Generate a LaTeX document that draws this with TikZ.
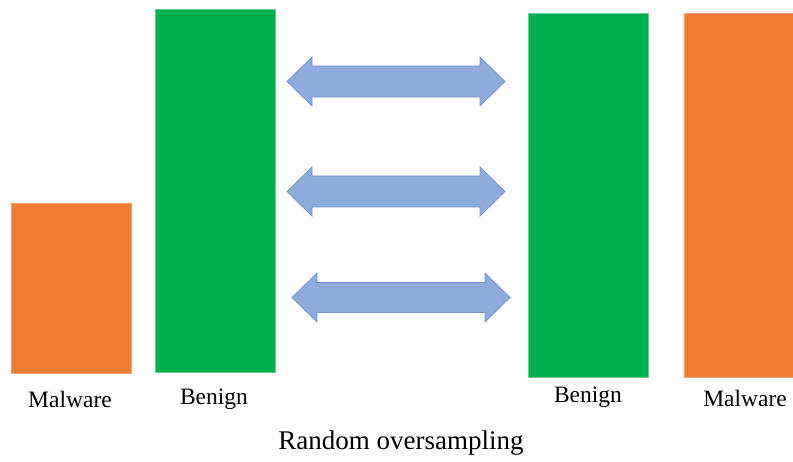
\documentclass[tikz,border=0pt]{standalone}
\usepackage{fontspec}
\setmainfont{Liberation Serif}
\definecolor{malorange}{HTML}{ED7D31}
\definecolor{maledge}{HTML}{F0A070}
\definecolor{bengreen}{HTML}{00B050}
\definecolor{benedge}{HTML}{6CCB8E}
\definecolor{arrowfill}{HTML}{8FAADC}
\definecolor{arrowedge}{HTML}{7595CF}
\tikzset{
  bar/.style={rectangle, anchor=north west, inner sep=0pt, outer sep=0pt, line width=0.8pt},
  malbar/.style={bar, fill=malorange, draw=maledge},
  benbar/.style={bar, fill=bengreen, draw=benedge},
  barlabel/.style={inner sep=0pt, font=\fontsize{23.5}{28}\selectfont},
  caption/.style={inner sep=0pt, font=\fontsize{27}{32}\selectfont},
  arrowshape/.style={fill=arrowfill, draw=arrowedge, line width=0.8pt, line join=miter},
}
% double-headed block arrow: left tip x, right tip x, centre y, shaft half width
\newcommand\blockarrow[4]{%
  \draw[arrowshape] (#1,#3) -- (#1+25,#3-24.5) -- (#1+25,#3-#4) -- (#2-25,#3-#4)
    -- (#2-25,#3-24.5) -- (#2,#3) -- (#2-25,#3+24.5) -- (#2-25,#3+#4)
    -- (#1+25,#3+#4) -- (#1+25,#3+24.5) -- cycle;}
\begin{document}
\begin{tikzpicture}[x=1pt,y=-1pt]
  \useasboundingbox[fill=white] (0,0) rectangle (793,462);

  % original data set
  \node[malbar, minimum width=120pt, minimum height=170pt] (malL) at (11,203) {};
  \node[benbar, minimum width=120pt, minimum height=363pt] (benL) at (155.5,9.5) {};

  % resampled data set
  \node[benbar, minimum width=120pt, minimum height=364pt] (benR) at (528.5,13) {};
  \node[malbar, minimum width=115pt, minimum height=364pt] (malR) at (684.5,13) {};

  % block arrows between the two sets
  \blockarrow{287}{505}{81.5}{15.5}
  \blockarrow{287}{505}{191.5}{15.5}
  \blockarrow{292}{510}{297.5}{15}

  % labels
  \node[barlabel] (lmalL) at (70,399) {Malware};
  \node[barlabel] (lbenL) at (214,399) {Benign};
  \node[barlabel] (lbenR) at (588,397) {Benign};
  \node[barlabel] (lmalR) at (745,398) {Malware};
  \node[caption] (cap) at (401,443) {Random oversampling};
\end{tikzpicture}
\end{document}
